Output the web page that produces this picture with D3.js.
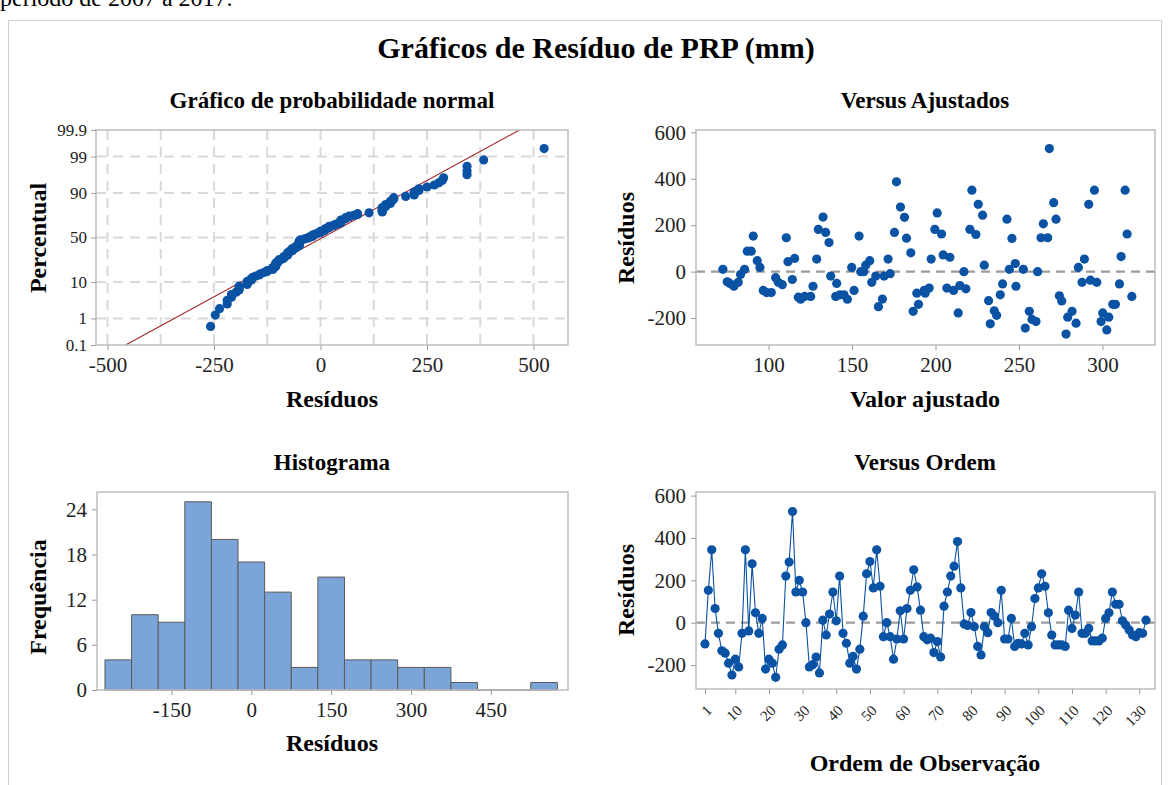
<!DOCTYPE html>
<html>
<head>
<meta charset="utf-8">
<script src="https://cdn.jsdelivr.net/npm/d3@7"></script>
<style>
  body { margin: 0; background: #fff; }
  svg { display: block; font-family: "Liberation Serif", "DejaVu Serif", serif; }
  .tick text { fill: #222; }
  .tick line { stroke: #9a9a9a; }
  .domain { display: none; }
</style>
</head>
<body>
<svg width="1169" height="785"></svg>
<script>
// residuos na ordem de observação (132 meses)
var residuos = [-100,153,344,67,-50,-133,-144,-191,-247,-172,
  -209,-50,344,-39,278,47,-50,20,-219,-172,
  -191,-258,-125,-105,220,286,525,145,200,145,
  0,-209,-198,-162,-237,12,-58,41,145,9,
  220,-50,-97,-191,-159,-219,-125,31,231,289,
  164,344,172,-66,0,-66,-172,-77,56,-77,
  67,153,250,169,59,-66,-81,-73,-141,-89,
  -162,78,145,220,267,383,164,-6,-13,48,
  -19,-112,-152,-19,-47,48,31,0,153,-77,
  -77,20,-112,-97,-100,-50,-105,-19,114,164,
  231,172,47,-58,-105,-105,-105,-112,59,-27,
  36,145,-50,-50,-27,-86,-86,-86,-73,20,
  47,145,87,87,9,-11,-34,-58,-66,-47,
  -50,12];

// versus ajustados
var valorAjustado = [72.6,75.2,76.8,79.2,81.8,83.2,85.6,87.2,89.6,90.8,
  93.2,94.8,96.8,98.8,101.6,104.2,105.8,108.2,110.6,111.6,
  115.6,114.2,117.8,119.2,121.6,125.2,126.6,128.8,129.8,132.6,
  134.2,136.2,137.2,140.8,140.2,142.8,145.2,147.2,149.8,151.2,
  154.2,155.2,
  157,158.2,160.6,161.8,164.2,165.8,168.2,169.2,172.8,171.6,
  175.4,176.6,179.0,181.4,182.6,185.2,186.6,188.8,189.8,193.2,
  193.8,196.2,197.4,199.6,201.0,203.6,204.6,208.6,206.8,210.8,
  213.6,214.6,217.0,218.2,220.6,221.8,224.2,225.6,228.2,229.2,
  231.8,232.8,235.2,236.6,238.8,240.2,242.8,244.2,245.8,247.8,
  248.2,
  252.6,253.8,256.2,257.8,260.2,261.2,263.2,264.6,267.2,268.2,
  270.8,272.2,274.2,275.6,278.2,279.2,281.8,284.2,285.6,287.8,
  289.2,291.8,292.8,295.2,296.6,299.2,300.2,302.6,303.8,306.2,
  307.8,310.2,311.2,313.6,314.8,317.6];
var residuoAjustado = [10,-44,-51,-63,-46,-12,10,88,88,153,
  47,18,-81,-90,-90,-26,-46,-56,146,43,
  57,-34,-110,-119,-107,-107,-63,54,182,235,
  169,125,-19,-51,-107,-100,-100,-119,18,-81,
  153,0,
  0,28,47,-46,-19,-151,-118,-19,-9,54,
  169,387,278,234,144,81,-171,-93,-141,-81,
  -93,-71,54,182,253,162,72,62,-71,-81,
  -178,-60,0,-74,182,351,160,290,243,28,
  -125,-225,-169,-188,-100,-53,226,10,143,35,
  -63,
  10,-243,-171,-206,-215,0,146,206,146,530,
  297,226,-104,-126,-269,-196,-171,-222,18,-46,
  54,290,-37,351,-46,-215,-178,-251,-196,-141,
  -141,-53,65,351,162,-107];

// histograma
var binCentros = [-250,-200,-150,-100,-50,0,50,100,150,200,250,300,350,400,450,500,550];
var frequencias = [4,10,9,25,20,17,13,3,15,4,4,3,3,1,0,0,1];
var larguraBin = 50;

var percentTicks = [0.1, 1, 10, 50, 90, 99, 99.9];
var normXTicks = [-500, -250, 0, 250, 500];
var ajXTicks = [100, 150, 200, 250, 300];
var resTicks = [-200, 0, 200, 400, 600];
var histXTicks = [-150, 0, 150, 300, 450];
var histYTicks = [0, 6, 12, 18, 24];
var ordemTicks = [1, 10, 20, 30, 40, 50, 60, 70, 80, 90, 100, 110, 120, 130];

var azul = "#0a52a3";
var fmt = function (d) { return String(d); }; // hífen simples, como no original

var svg = d3.select("svg");

// inverse normal cdf (Acklam)
function invNorm(p) {
  var a = [-39.69683028665376, 220.9460984245205, -275.9285104469687, 138.3577518672690, -30.66479806614716, 2.506628277459239],
      b = [-54.47609879822406, 161.5858368580409, -155.6989798598866, 66.80131188771972, -13.28068155288572],
      c = [-0.007784894002430293, -0.3223964580411365, -2.400758277161838, -2.549732539343734, 4.374664141464968, 2.938163982698783],
      d = [0.007784695709041462, 0.3224671290700398, 2.445134137142996, 3.754408661907416];
  var q, r;
  if (p < 0.02425) {
    q = Math.sqrt(-2 * Math.log(p));
    return (((((c[0]*q+c[1])*q+c[2])*q+c[3])*q+c[4])*q+c[5]) / ((((d[0]*q+d[1])*q+d[2])*q+d[3])*q+1);
  }
  if (p > 1 - 0.02425) {
    q = Math.sqrt(-2 * Math.log(1 - p));
    return -(((((c[0]*q+c[1])*q+c[2])*q+c[3])*q+c[4])*q+c[5]) / ((((d[0]*q+d[1])*q+d[2])*q+d[3])*q+1);
  }
  q = p - 0.5; r = q * q;
  return (((((a[0]*r+a[1])*r+a[2])*r+a[3])*r+a[4])*r+a[5])*q / (((((b[0]*r+b[1])*r+b[2])*r+b[3])*r+b[4])*r+1);
}

// ---- textos gerais
svg.append("text").attr("x", 0).attr("y", 6)
  .style("font-size", "24px").text("período de 2007 a 2017.");
svg.append("rect").attr("x", 8.5).attr("y", 20.5).attr("width", 1153).attr("height", 800)
  .attr("fill", "none").attr("stroke", "#cfcfcf");
svg.append("text").attr("x", 596).attr("y", 58).attr("text-anchor", "middle")
  .style("font-size", "30px").style("font-weight", "bold")
  .text("Gráficos de Resíduo de PRP (mm)");

function frame(x0, x1, y0, y1) {
  svg.append("rect").attr("x", x0).attr("y", y0).attr("width", x1 - x0).attr("height", y1 - y0)
    .attr("fill", "none").attr("stroke", "#bdbdbd").attr("stroke-width", 1.5);
}
function titulo(x, y, t) {
  svg.append("text").attr("x", x).attr("y", y).attr("text-anchor", "middle")
    .style("font-size", "23px").style("font-weight", "bold").text(t);
}
function rotulo(x, y, t, rot) {
  var el = svg.append("text").attr("text-anchor", "middle")
    .style("font-size", "24px").style("font-weight", "bold").text(t);
  if (rot) el.attr("transform", "translate(" + x + "," + y + ") rotate(-90)");
  else el.attr("x", x).attr("y", y);
}
function tickFont(g, size) {
  g.attr("font-family", null).attr("font-size", null);
  g.selectAll("text")
    .style("font-family", '"Liberation Serif", "DejaVu Serif", serif')
    .style("font-size", size + "px");
  return g;
}

// ================= Gráfico de probabilidade normal
var p1 = {l: 96, r: 568, t: 130, b: 345};
var xN = d3.scaleLinear().domain([-527, 581]).range([p1.l, p1.r]);
var zMax = invNorm(0.999);
var yN = d3.scaleLinear().domain([-zMax, zMax]).range([p1.b, p1.t]);

var gGrid = svg.append("g").attr("stroke", "#d9d9d9").attr("stroke-width", 2).attr("stroke-dasharray", "10,7");
gGrid.selectAll(".gv").data(d3.range(-500, 501, 125)).enter().append("line")
  .attr("x1", d => xN(d)).attr("x2", d => xN(d)).attr("y1", p1.t).attr("y2", p1.b);
gGrid.selectAll(".gh").data([1, 10, 50, 90, 99]).enter().append("line")
  .attr("x1", p1.l).attr("x2", p1.r).attr("y1", d => yN(invNorm(d / 100))).attr("y2", d => yN(invNorm(d / 100)));

var ordenados = residuos.slice().sort(d3.ascending);
var n = ordenados.length;
var media = d3.mean(residuos), dp = d3.deviation(residuos);
svg.append("line")
  .attr("x1", xN(media - zMax * dp)).attr("y1", yN(-zMax))
  .attr("x2", xN(media + zMax * dp)).attr("y2", yN(zMax))
  .attr("stroke", "#a32a2a").attr("stroke-width", 1.1);

svg.append("g").selectAll("circle").data(ordenados).enter().append("circle")
  .attr("cx", d => xN(d))
  .attr("cy", (d, i) => yN(invNorm((i + 1 - 0.3) / (n + 0.4))))
  .attr("r", 4.6).attr("fill", azul);

frame(p1.l, p1.r, p1.t, p1.b);
tickFont(svg.append("g").attr("transform", "translate(0," + p1.b + ")")
  .call(d3.axisBottom(xN).tickValues(normXTicks).tickFormat(fmt).tickSize(5).tickPadding(7).tickSizeOuter(0)), 21);
tickFont(svg.append("g").attr("transform", "translate(" + p1.l + ",0)")
  .call(d3.axisLeft(yN)
    .tickValues(percentTicks.map(p => invNorm(p / 100)))
    .tickFormat((d, i) => percentTicks[i]).tickSize(5).tickPadding(4).tickSizeOuter(0)), 17);
titulo(332, 108, "Gráfico de probabilidade normal");
rotulo(332, 407, "Resíduos");
rotulo(46, 238, "Percentual", true);

// ================= Versus ajustados
var p2 = {l: 696, r: 1155, t: 130, b: 345};
var xA = d3.scaleLinear().domain([56.5, 331.5]).range([p2.l, p2.r]);
var yA = d3.scaleLinear().domain([-316, 610]).range([p2.b, p2.t]);
svg.append("line").attr("x1", p2.l).attr("x2", p2.r).attr("y1", yA(0)).attr("y2", yA(0))
  .attr("stroke", "#9c9c9c").attr("stroke-width", 2.2).attr("stroke-dasharray", "9,6");
svg.append("g").selectAll("circle").data(valorAjustado).enter().append("circle")
  .attr("cx", d => xA(d)).attr("cy", (d, i) => yA(residuoAjustado[i]))
  .attr("r", 4.6).attr("fill", azul);
frame(p2.l, p2.r, p2.t, p2.b);
tickFont(svg.append("g").attr("transform", "translate(0," + p2.b + ")")
  .call(d3.axisBottom(xA).tickValues(ajXTicks).tickFormat(fmt).tickSize(5).tickPadding(7).tickSizeOuter(0)), 21);
tickFont(svg.append("g").attr("transform", "translate(" + p2.l + ",0)")
  .call(d3.axisLeft(yA).tickValues(resTicks).tickFormat(fmt).tickSize(5).tickPadding(5).tickSizeOuter(0)), 21);
titulo(925, 108, "Versus Ajustados");
rotulo(925, 407, "Valor ajustado");
rotulo(634, 238, "Resíduos", true);

// ================= Histograma
var p3 = {l: 97, r: 568, t: 492, b: 690};
var xH = d3.scaleLinear().domain([-290, 595]).range([p3.l, p3.r]);
var yH = d3.scaleLinear().domain([0, 26.3]).range([p3.b, p3.t]);
// barras como caminhos, para que as classes vazias fiquem como traço na base
svg.append("g").selectAll("path").data(binCentros).enter().append("path")
  .attr("d", function (d, i) {
    var x0 = xH(d - larguraBin / 2), x1 = xH(d + larguraBin / 2), y0 = yH(0), y1 = yH(frequencias[i]);
    return "M" + x0 + "," + y0 + "V" + y1 + "H" + x1 + "V" + y0 + "Z";
  })
  .attr("fill", "#7ba5d8").attr("stroke", "#5a5a5a").attr("stroke-width", 1);
frame(p3.l, p3.r, p3.t, p3.b);
tickFont(svg.append("g").attr("transform", "translate(0," + p3.b + ")")
  .call(d3.axisBottom(xH).tickValues(histXTicks).tickFormat(fmt).tickSize(5).tickPadding(7).tickSizeOuter(0)), 21);
tickFont(svg.append("g").attr("transform", "translate(" + p3.l + ",0)")
  .call(d3.axisLeft(yH).tickValues(histYTicks).tickSize(5).tickPadding(5).tickSizeOuter(0)), 21);
titulo(332, 470, "Histograma");
rotulo(332, 751, "Resíduos");
rotulo(46, 597, "Frequência", true);

// ================= Versus ordem
var p4 = {l: 696, r: 1155, t: 492, b: 689};
var xO = d3.scaleLinear().domain([-1.67, 134.67]).range([p4.l, p4.r]);
var yO = d3.scaleLinear().domain([-313, 617]).range([p4.b, p4.t]);
svg.append("line").attr("x1", p4.l).attr("x2", p4.r).attr("y1", yO(0)).attr("y2", yO(0))
  .attr("stroke", "#9c9c9c").attr("stroke-width", 2.2).attr("stroke-dasharray", "9,6");
svg.append("path").datum(residuos)
  .attr("d", d3.line().x((d, i) => xO(i + 1)).y(d => yO(d)))
  .attr("fill", "none").attr("stroke", azul).attr("stroke-width", 1.1);
svg.append("g").selectAll("circle").data(residuos).enter().append("circle")
  .attr("cx", (d, i) => xO(i + 1)).attr("cy", d => yO(d))
  .attr("r", 4.6).attr("fill", azul);
frame(p4.l, p4.r, p4.t, p4.b);
var ax = tickFont(svg.append("g").attr("transform", "translate(0," + p4.b + ")")
  .call(d3.axisBottom(xO).tickValues(ordemTicks).tickSize(5).tickSizeOuter(0)), 15);
ax.selectAll(".tick text")
  .attr("text-anchor", "end").attr("dy", "0.35em")
  .attr("transform", "translate(-2,13) rotate(-45)");
tickFont(svg.append("g").attr("transform", "translate(" + p4.l + ",0)")
  .call(d3.axisLeft(yO).tickValues(resTicks).tickFormat(fmt).tickSize(5).tickPadding(5).tickSizeOuter(0)), 21);
titulo(925, 470, "Versus Ordem");
rotulo(925, 771, "Ordem de Observação");
rotulo(634, 590, "Resíduos", true);
</script>
</body>
</html>
